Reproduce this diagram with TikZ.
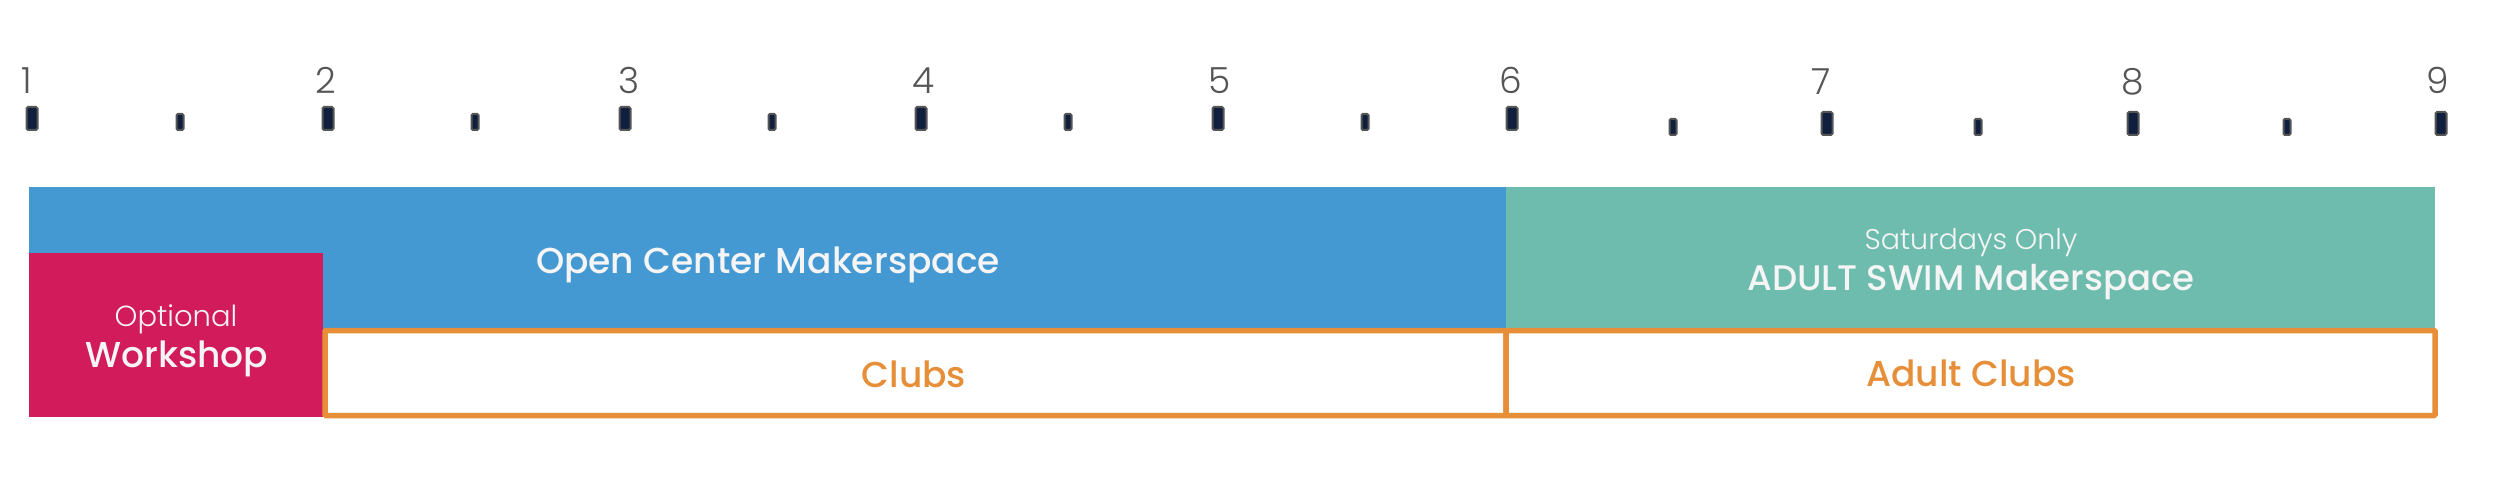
\documentclass[tikz,border=0pt]{standalone}
\usepackage{fontspec}
\setmainfont{Poppins}
\newfontfamily\popl{Poppins Light}
\newfontfamily\popm{Poppins Medium}
\definecolor{cblue}{HTML}{4499D3}
\definecolor{cteal}{HTML}{6EBCAE}
\definecolor{cmag}{HTML}{D21B5A}
\definecolor{corange}{HTML}{E68F38}
\definecolor{cnavy}{HTML}{0F1F3D}
\definecolor{cgrayline}{HTML}{555555}
\definecolor{ctext}{HTML}{F5F5F5}
\begin{document}
\begin{tikzpicture}[x=1pt,y=-1pt,
  bigtick/.style={rectangle,rounded corners=1.5pt,fill=cnavy,draw=cgrayline,line width=2pt,minimum width=11pt,minimum height=23pt,inner sep=0pt,outer sep=0pt,anchor=north},
  smalltick/.style={rectangle,rounded corners=1.2pt,fill=cnavy,draw=cgrayline,line width=2pt,minimum width=7pt,minimum height=16pt,inner sep=0pt,outer sep=0pt,anchor=north},
  numlabel/.style={anchor=base,inner sep=0pt,text=cgrayline,font=\popl\fontsize{36}{36}\selectfont},
  block/.style={rectangle,inner sep=0pt,outer sep=0pt,anchor=north west},
  clubbox/.style={rectangle,draw=corange,line width=5.5pt,fill=white,inner sep=0pt,outer sep=0pt,anchor=north west,rounded corners=1pt},
  lbl/.style={anchor=base,inner sep=0pt,text=ctext},
  clublbl/.style={anchor=base,inner sep=0pt,text=corange,font=\popm\fontsize{36}{36}\selectfont}]
\useasboundingbox (0,0) rectangle (2500,500);
% ticks, first part
\node[bigtick] (t1) at (32,107) {};
\node[smalltick] (h1) at (180,114) {};
\node[bigtick] (t2) at (328,107) {};
\node[smalltick] (h2) at (475,114) {};
\node[bigtick] (t3) at (625,107) {};
\node[smalltick] (h3) at (772,114) {};
\node[bigtick] (t4) at (921,107) {};
\node[smalltick] (h4) at (1068,114) {};
\node[bigtick] (t5) at (1218,107) {};
\node[smalltick] (h5) at (1365,114) {};
\node[bigtick] (t6) at (1512,107) {};
% ticks, second part
\node[smalltick] (h6) at (1673,119) {};
\node[bigtick] (t7) at (1827,112) {};
\node[smalltick] (h7) at (1978,119) {};
\node[bigtick] (t8) at (2133,112) {};
\node[smalltick] (h8) at (2287,119) {};
\node[bigtick] (t9) at (2441,112) {};
% numbers
\node[numlabel] (n1) at (27,94) {1};
\node[numlabel] (n2) at (326,94) {2};
\node[numlabel] (n3) at (629,94) {3};
\node[numlabel] (n4) at (924,94) {4};
\node[numlabel] (n5) at (1220,94) {5};
\node[numlabel] (n6) at (1511,94) {6};
\node[numlabel] (n7) at (1821,95) {7};
\node[numlabel] (n8) at (2133,95) {8};
\node[numlabel] (n9) at (2438,94) {9};
% blocks
\node[block,fill=cblue,minimum width=1477pt,minimum height=145pt] (open) at (29,187) {};
\node[block,fill=cteal,minimum width=929pt,minimum height=145pt] (adult) at (1506,187) {};
\node[block,fill=cmag,minimum width=294pt,minimum height=164pt] (work) at (29,253) {};
\node[clubbox,minimum width=1181pt,minimum height=85pt] (clubs) at (325,330.5) {};
\node[clubbox,minimum width=929pt,minimum height=85pt] (aclubs) at (1506,330.5) {};
% labels
\node[lbl,font=\popm\fontsize{36}{36}\selectfont] (openlbl) at (768,273) {Open Center Makerspace};
\node[lbl,font=\popl\fontsize{29}{29}\selectfont] (optlbl) at (176,326) {Optional};
\node[lbl,font=\popm\fontsize{36}{36}\selectfont] (worklbl) at (177,367) {Workshop};
\node[lbl,font=\popl\fontsize{28.5}{28.5}\selectfont] (satlbl) at (1971,249) {Saturdays Only};
\node[lbl,font=\popm\fontsize{35.5}{35.5}\selectfont] (swimlbl) at (1971,290) {ADULT SWIM Makerspace};
\node[clublbl] (clubslbl) at (914,387) {Clubs};
\node[clublbl] (aclubslbl) at (1971,386) {Adult Clubs};
\end{tikzpicture}
\end{document}
